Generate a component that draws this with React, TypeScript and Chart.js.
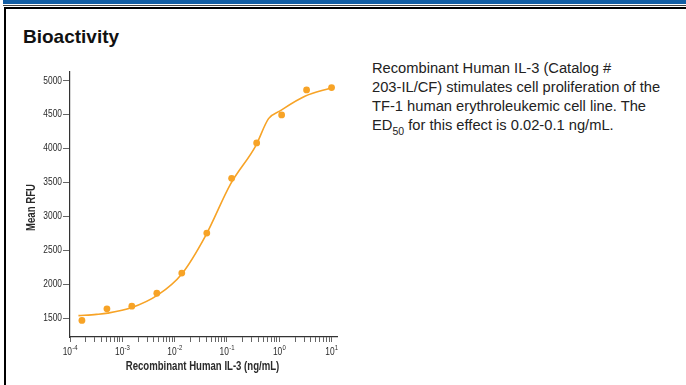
import React, { useEffect, useRef } from "react";
import { Chart, registerables } from "chart.js";

Chart.register(...registerables);

// Measured points (dose in ng/mL, mean RFU)
const doseValues = [0.000169, 0.000508, 0.00152, 0.00457, 0.0137, 0.0412, 0.123, 0.37, 1.11, 3.33, 10];
const rfuValues = [1465, 1636, 1675, 1865, 2162, 2753, 3560, 4082, 4495, 4864, 4898];

// Fitted curve
const curveDose = [0.000145, 0.00032, 0.000525, 0.00148, 0.00479, 0.0137, 0.0394, 0.117, 0.355, 0.624, 1.035, 3.09, 9.48];
const curveRfu = [1535, 1554, 1572, 1650, 1840, 2150, 2720, 3475, 4040, 4440, 4555, 4770, 4890];

const xTickDecades = [-4, -3, -2, -1, 0, 1];
const xTickBase = "10";
const xTickExponents = ["-4", "-3", "-2", "-1", "0", "1"];
const yTickValues = [1500, 2000, 2500, 3000, 3500, 4000, 4500, 5000];
const xTitle = "Recombinant Human IL-3 (ng/mL)";
const yTitle = "Mean RFU";

const X_MIN = 1e-4;
const X_MAX = 12.7;
const Y_MIN = 1220;
const Y_MAX = 5128;

const ORANGE = "#f7a326";
const TEXT = "#2a2a2a";
const FONT = '"Liberation Sans", Arial, sans-serif';
const SQUEEZE = 0.8;

// draws condensed (narrow) axis text, like the original's condensed typeface
const narrowText = {
  id: "narrowText",
  afterDraw(chart: any) {
    const { ctx, scales } = chart;
    const xs = scales.x;
    const ys = scales.y;
    const put = (text: string, x: number, y: number, align: CanvasTextAlign, base: CanvasTextBaseline, font: string, rot = 0) => {
      ctx.save();
      ctx.translate(x, y);
      if (rot) ctx.rotate(rot);
      ctx.scale(SQUEEZE, 1);
      ctx.font = font;
      ctx.fillStyle = TEXT;
      ctx.textAlign = align;
      ctx.textBaseline = base;
      ctx.fillText(text, 0, 0);
      ctx.restore();
    };
    const baseFont = `10.5px ${FONT}`;
    const expFont = `7.5px ${FONT}`;
    xTickDecades.forEach((k, i) => {
      const px = xs.getPixelForValue(Math.pow(10, k));
      const exp = xTickExponents[i];
      ctx.save();
      ctx.font = baseFont;
      const wb = ctx.measureText(xTickBase).width * SQUEEZE;
      ctx.font = expFont;
      const we = ctx.measureText(exp).width * SQUEEZE;
      ctx.restore();
      const x0 = px - (wb + we) / 2;
      const baseY = xs.top + 17.5;
      put(xTickBase, x0, baseY, "left", "alphabetic", baseFont);
      put(exp, x0 + wb + 0.3, baseY - 4.5, "left", "alphabetic", expFont);
    });
    yTickValues.forEach((v) => {
      const py = ys.getPixelForValue(v);
      put(String(v), ys.right - 8, py, "right", "middle", baseFont);
    });
    put(xTitle, (xs.left + xs.right) / 2 - 1, xs.bottom - 13, "center", "middle", `bold 12px ${FONT}`);
    put(yTitle, ys.left + 21.5, (ys.top + ys.bottom) / 2 + 3, "center", "middle", `bold 12px ${FONT}`, -Math.PI / 2);
  },
};

function ChartCanvas() {
  const ref = useRef<HTMLCanvasElement | null>(null);
  useEffect(() => {
    if (!ref.current) return;
    const chart = new Chart(ref.current, {
      type: "scatter",
      data: {
        datasets: [
          {
            label: "points",
            data: doseValues.map((d, i) => ({ x: d, y: rfuValues[i] })),
            backgroundColor: ORANGE,
            borderColor: ORANGE,
            pointRadius: 3.4,
            pointBorderWidth: 0,
            showLine: false,
          },
          {
            label: "fit",
            data: curveDose.map((d, i) => ({ x: d, y: curveRfu[i] })),
            borderColor: ORANGE,
            backgroundColor: ORANGE,
            borderWidth: 1.6,
            pointRadius: 0,
            showLine: true,
            cubicInterpolationMode: "monotone",
          } as any,
        ],
      },
      options: {
        animation: false,
        responsive: false,
        maintainAspectRatio: false,
        layout: { padding: { top: 12, right: 13, bottom: 0, left: 0 } },
        plugins: { legend: { display: false }, tooltip: { enabled: false } },
        scales: {
          x: {
            type: "logarithmic",
            min: X_MIN,
            max: X_MAX,
            afterBuildTicks: (scale: any) => {
              const t: any[] = [];
              xTickDecades.forEach((k) => {
                for (let m = 1; m <= 9; m++) {
                  const v = m * Math.pow(10, k);
                  if (v <= X_MAX * 1.0001) t.push({ value: v });
                }
              });
              scale.ticks = t;
            },
            afterFit: (scale: any) => {
              scale.height = 43;
            },
            ticks: { display: false, autoSkip: false },
            grid: {
              display: true,
              drawOnChartArea: false,
              drawTicks: true,
              tickLength: 5,
              color: "#666",
              lineWidth: 1,
            },
            border: { display: true, color: "#333", width: 1.2 },
            title: { display: false },
          },
          y: {
            type: "linear",
            min: Y_MIN,
            max: Y_MAX,
            afterBuildTicks: (scale: any) => {
              scale.ticks = yTickValues.map((v) => ({ value: v }));
            },
            afterFit: (scale: any) => {
              scale.width = 60;
            },
            ticks: { display: false, autoSkip: false },
            grid: {
              display: true,
              drawOnChartArea: false,
              drawTicks: true,
              tickLength: 7,
              color: "#666",
              lineWidth: 1,
            },
            border: { display: true, color: "#333", width: 1.2 },
            title: { display: false },
          },
        },
      } as any,
      plugins: [narrowText],
    });
    return () => chart.destroy();
  }, []);
  return (
    <canvas
      ref={ref}
      width={340}
      height={320}
      style={{ position: "absolute", left: 10, top: 60, width: 340, height: 320 }}
    />
  );
}

export default function App() {
  return (
    <div
      style={{
        position: "fixed",
        left: 0,
        top: 0,
        width: 686,
        height: 385,
        background: "#fff",
        overflow: "hidden",
        fontFamily: '"Liberation Sans", Arial, sans-serif',
      }}
    >
      {/* frame */}
      <div style={{ position: "absolute", left: 3, top: 0, width: 683, height: 4, background: "#135ea4" }} />
      <div style={{ position: "absolute", left: 3, top: 4.5, width: 683, height: 1, background: "#444" }} />
      <div style={{ position: "absolute", left: 4, top: 7, width: 682, height: 2, background: "#000" }} />
      <div style={{ position: "absolute", left: 4, top: 7, width: 2, height: 378, background: "#000" }} />

      <div
        style={{
          position: "absolute",
          left: 23,
          top: 26,
          fontSize: 19,
          fontWeight: "bold",
          color: "#111",
          lineHeight: "22px",
        }}
      >
        Bioactivity
      </div>

      <div
        style={{
          position: "absolute",
          left: 372,
          top: 58.5,
          fontSize: 14.7,
          lineHeight: "19px",
          color: "#222",
          whiteSpace: "nowrap",
        }}
      >
        Recombinant Human IL-3 (Catalog #
        <br />
        203-IL/CF) stimulates cell proliferation of the
        <br />
        TF-1 human erythroleukemic cell line. The
        <br />
        ED
        <span style={{ fontSize: 10.5, position: "relative", top: 5 }}>50</span> for this effect is 0.02-0.1 ng/mL.
      </div>

      <ChartCanvas />
    </div>
  );
}
